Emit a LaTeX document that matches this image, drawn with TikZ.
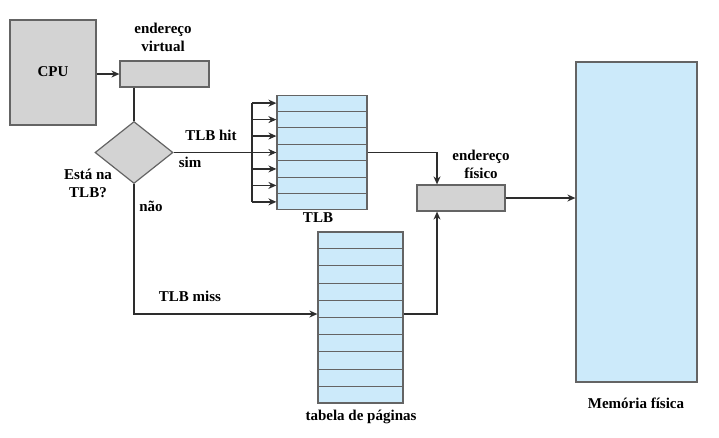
\documentclass[tikz,border=0pt]{standalone}
\usepackage{fontspec}
\setmainfont{Liberation Serif}
\usetikzlibrary{shapes.geometric,arrows.meta,calc}
\definecolor{boxgray}{RGB}{211,211,211}
\definecolor{cellblue}{RGB}{204,234,250}
\definecolor{edgegray}{RGB}{100,100,100}
\definecolor{linegray}{RGB}{45,45,45}
\tikzset{
  graybox/.style={draw=edgegray, fill=boxgray, line width=1.2pt, inner sep=0pt},
  bluebox/.style={draw=edgegray, fill=cellblue, line width=1.2pt, inner sep=0pt},
  conn/.style={draw=linegray, line width=1.6pt},
  arr/.style={conn, -{Stealth[length=8pt,width=7pt]}},
  lbl/.style={font=\fontsize{15}{18}\selectfont\bfseries, inner sep=0pt, align=center},
  rowline/.style={draw=edgegray, line width=1pt}
}
\begin{document}
\begin{tikzpicture}[x=1pt,y=-1pt]
\useasboundingbox (0,0) rectangle (719,437);
% boxes
\node[graybox, minimum width=86pt, minimum height=105pt] (cpu) at (53,72.5) {};
\node[lbl] (cpulbl) at (53,72) {CPU};
\node[graybox, minimum width=89pt, minimum height=26pt] (va) at (164.5,74) {};
\node[graybox, diamond, minimum width=78pt, minimum height=62pt] (dia) at (134,152.5) {};
\node[bluebox, minimum width=90pt, minimum height=114pt] (tlb) at (322,152.5) {};
\foreach \i in {1,...,6} {
  \draw[rowline] ($(tlb.north west)!\i/7!(tlb.south west)$) -- ($(tlb.north east)!\i/7!(tlb.south east)$);
}
\node[bluebox, minimum width=85pt, minimum height=171pt] (pt) at (360.5,317.5) {};
\foreach \i in {1,...,9} {
  \draw[rowline] ($(pt.north west)!\i/10!(pt.south west)$) -- ($(pt.north east)!\i/10!(pt.south east)$);
}
\node[graybox, minimum width=88pt, minimum height=26pt] (phys) at (461,198) {};
\node[bluebox, minimum width=121pt, minimum height=320pt] (mem) at (636.5,222) {};
% labels
\node[lbl] (valbl) at (163,37) {endereço\\virtual};
\node[lbl] (qlbl) at (88,183) {Está na\\TLB?};
\node[lbl] (simlbl) at (190,162) {sim};
\node[lbl] (hitlbl) at (211,135) {TLB hit};
\node[lbl] (naolbl) at (151,206) {não};
\node[lbl] (tlblbl) at (318,218) {TLB};
\node[lbl] (palbl) at (481,164) {endereço\\físico};
\node[lbl] (misslbl) at (190,296) {TLB miss};
\node[lbl] (ptlbl) at (361,417) {tabela de páginas};
\node[lbl] (memlbl) at (636,403) {Memória física};
% connectors
\draw[arr] (cpu.east |- va.west) -- (va.west);
\draw[conn] (dia.north |- va.south) -- (dia.north);
\coordinate (bus) at (252,152.5);
\draw[conn] (dia.east) -- (bus);
\draw[conn] (bus |- {$(tlb.north west)!0.5/7!(tlb.south west)$}) -- (bus |- {$(tlb.north west)!6.5/7!(tlb.south west)$});
\foreach \i in {0,...,6} {
  \draw[arr] (bus |- {$(tlb.north west)!{(\i+0.5)/7}!(tlb.south west)$}) -- ($(tlb.north west)!{(\i+0.5)/7}!(tlb.south west)$);
}
\coordinate (ptin) at ([yshift=3.5pt]pt.west);
\draw[arr] (dia.south) |- (ptin);
\coordinate (physin) at ([xshift=-24pt]phys.north);
\coordinate (physin2) at ([xshift=-24pt]phys.south);
\draw[arr] (tlb.east) -| (physin);
\draw[arr] ([yshift=3.5pt]pt.east) -| (physin2);
\draw[arr] (phys.east) -- (phys.east -| mem.west);
\end{tikzpicture}
\end{document}
